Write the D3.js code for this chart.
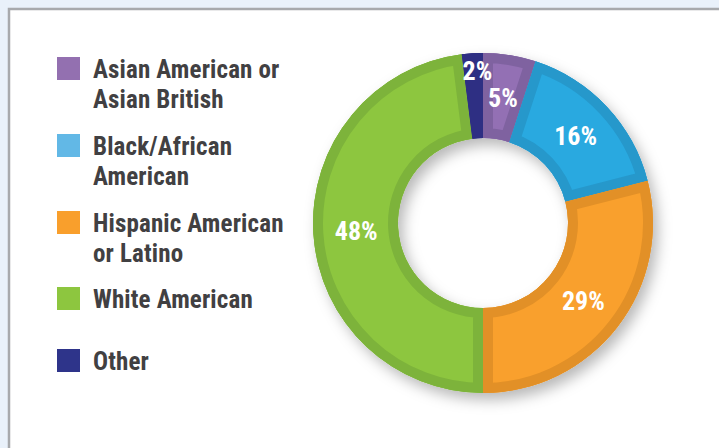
<!DOCTYPE html>
<html lang="en">
<head>
<meta charset="utf-8">
<title>Ethnicity donut</title>
<script src="https://cdn.jsdelivr.net/npm/d3@7"></script>
<style>
  html, body { margin: 0; padding: 0; background: #e9f1fa; }
  svg { display: block; }
  .lbl { font-family: "Roboto Condensed", "Open Sans", sans-serif; font-weight: bold; }
</style>
</head>
<body>
<div id="drawing"></div>
<script>
// data
var categories = ['Asian American or Asian British', 'Black/African American', 'Hispanic American or Latino', 'White American', 'Other'];
var legendLines = [['Asian American or', 'Asian British'], ['Black/African', 'American'], ['Hispanic American', 'or Latino'], ['White American'], ['Other']];
var values = [5, 16, 29, 48, 2];
var valueLabels = ['5%', '16%', '29%', '48%', '2%'];

// colours
var lightColors = ['#9370b4', '#29a9e0', '#f9a02d', '#8dc63f', '#2e2f83'];
var darkColors  = ['#7f62a0', '#2698cb', '#e29027', '#7db33b', '#2e2f83'];
var legendColors = ['#9370b0', '#62b8e6', '#f99f2c', '#8dc63f', '#2e348a'];

var width = 719, height = 448;
var cx = 483, cy = 223, rOuter = 170, rInner = 85;

var svg = d3.select('#drawing').append('svg').attr('width', width).attr('height', height);

// panel
svg.append('rect')
  .attr('x', 9).attr('y', 9).attr('width', width).attr('height', height)
  .attr('fill', '#ffffff').attr('stroke', '#a7a9ac').attr('stroke-width', 2.5);

var defs = svg.append('defs');
var shadow = defs.append('filter').attr('id', 'shadow')
  .attr('x', '-20%').attr('y', '-20%').attr('width', '150%').attr('height', '150%');
shadow.append('feDropShadow')
  .attr('dx', 5).attr('dy', 7).attr('stdDeviation', 7)
  .attr('flood-color', '#000').attr('flood-opacity', 0.28);

var pie = d3.pie().sort(null).value(function(d) { return d; });
var arcs = pie(values);
var arc = d3.arc().innerRadius(rInner).outerRadius(rOuter);

var donut = svg.append('g').attr('transform', 'translate(' + cx + ',' + cy + ')');

// shadow under the whole ring
donut.append('g').attr('filter', 'url(#shadow)')
  .selectAll('path').data(arcs).enter().append('path')
  .attr('d', arc).attr('fill', function(d, i) { return darkColors[i]; });

arcs.forEach(function(a, i) {
  defs.append('clipPath').attr('id', 'clip' + i)
    .append('path').attr('d', arc(a));
  donut.append('path')
    .attr('d', arc(a))
    .attr('clip-path', 'url(#clip' + i + ')')
    .attr('fill', lightColors[i])
    .attr('stroke', darkColors[i])
    .attr('stroke-width', 20)
    .attr('stroke-linejoin', 'round');
});

// value labels
var labelArc = d3.arc().innerRadius(127).outerRadius(127);
var smallArc = d3.arc().innerRadius(153).outerRadius(153);
donut.selectAll('text.val').data(arcs).enter().append('text')
  .attr('class', 'lbl val')
  .attr('transform', function(d) {
    var p = (d.data < 3 ? smallArc : labelArc).centroid(d);
    return 'translate(' + (d.data < 3 ? p[0] + 4 : p[0]) + ',' + p[1] + ')';
  })
  .attr('text-anchor', 'middle')
  .attr('dy', '0.36em')
  .attr('fill', '#ffffff')
  .attr('font-size', 26)
  .attr('font-weight', 500)
  .text(function(d, i) { return valueLabels[i]; });

// legend
var legendY = [78, 155, 232, 308, 370];
var legend = svg.append('g');
categories.forEach(function(c, i) {
  var g = legend.append('g').attr('transform', 'translate(57,' + legendY[i] + ')');
  g.append('rect').attr('x', 0).attr('y', -21).attr('width', 23).attr('height', 23)
    .attr('fill', legendColors[i]);
  var t = g.append('text').attr('class', 'lbl').attr('x', 36).attr('y', 0)
    .attr('fill', '#414042').attr('font-size', 25).attr('letter-spacing', 0.15);
  legendLines[i].forEach(function(line, j) {
    t.append('tspan').attr('x', 36).attr('y', j * 30).text(line);
  });
});
</script>
</body>
</html>
